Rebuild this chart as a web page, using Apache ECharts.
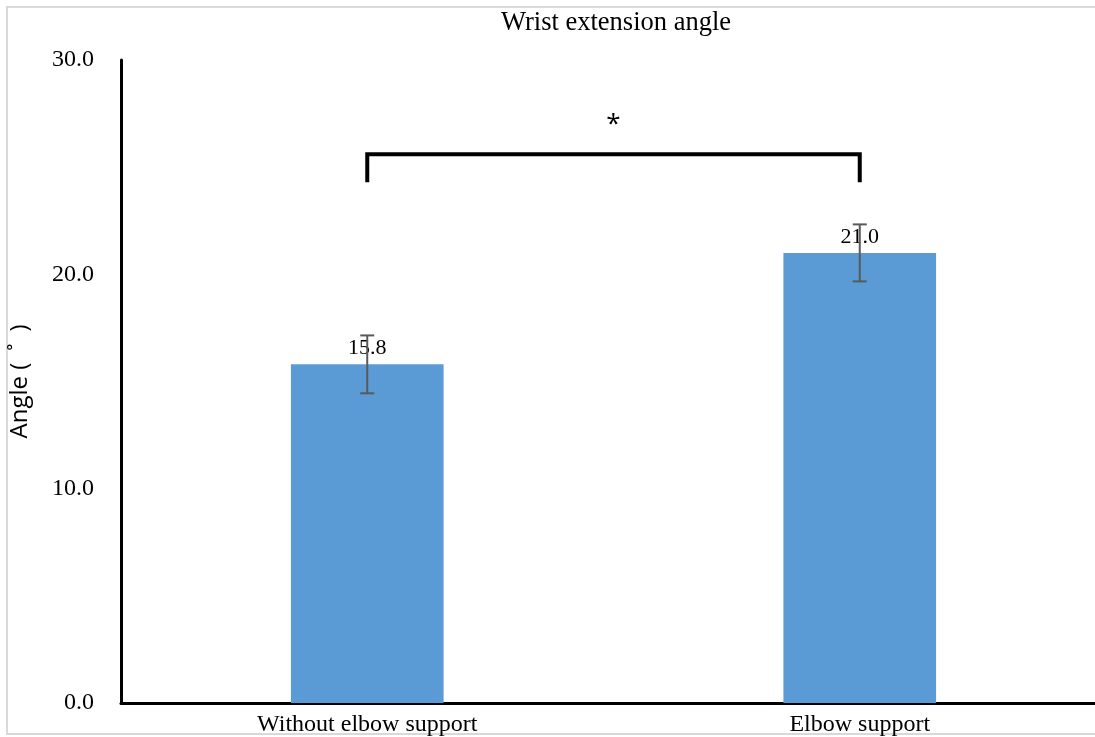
<!DOCTYPE html>
<html>
<head>
<meta charset="utf-8">
<script src="https://cdn.jsdelivr.net/npm/echarts@6/dist/echarts.min.js"></script>
<style>
html,body{margin:0;padding:0;background:#fff;overflow:hidden;width:1095px;height:737px;}
#frame{position:absolute;left:6px;top:6px;width:1095px;height:729px;border:2px solid #d9d9d9;box-sizing:border-box;}
#chart{position:absolute;left:0;top:0;width:1110px;height:737px;}
</style>
</head>
<body>
<div id="frame"></div>
<div id="chart"></div>
<script>
const categories = ['Without elbow support', 'Elbow support'];
const meanValues = [15.8, 21.0];
const errorValues = [1.35, 1.33];
const bracketLow = 24.3;
const bracketHigh = 25.6;
const starValue = 27.0;

const chart = echarts.init(document.getElementById('chart'));
chart.setOption({
  animation: false,
  title: {
    text: 'Wrist extension angle',
    left: 496,
    top: 5,
    textStyle: {fontFamily: 'Liberation Serif', fontSize: 26.5, fontWeight: 'normal', color: '#000'}
  },
  grid: {left: 121, right: 4, top: 60, bottom: 34},
  xAxis: {
    type: 'category',
    data: categories,
    axisLine: {lineStyle: {color: '#000', width: 3}},
    axisTick: {show: false},
    axisLabel: {fontFamily: 'Liberation Serif', fontSize: 24, color: '#000', margin: 10}
  },
  yAxis: {
    type: 'value',
    min: 0, max: 30, interval: 10,
    name: 'Angle (\u2002˚\u2002)',
    nameLocation: 'middle',
    nameGap: 89,
    nameTextStyle: {fontFamily: 'Open Sans', fontSize: 24, color: '#000'},
    axisLine: {show: true, lineStyle: {color: '#000', width: 3}},
    axisTick: {show: false},
    splitLine: {show: false},
    axisLabel: {fontFamily: 'Liberation Serif', fontSize: 24, color: '#000', margin: 27,
      formatter: v => v.toFixed(1)}
  },
  series: [
    {
      type: 'bar',
      data: meanValues,
      barWidth: '31%',
      itemStyle: {color: '#5b9bd5'},
      label: {show: true, position: 'top', distance: 5,
        fontFamily: 'Liberation Serif', fontSize: 22, color: '#000',
        formatter: p => p.value.toFixed(1)},
      z: 2
    },
    {
      type: 'custom',
      z: 5,
      data: meanValues.map((v, i) => [i, v - errorValues[i], v + errorValues[i]]),
      renderItem: (params, api) => {
        const lo = api.coord([api.value(0), api.value(1)]);
        const hi = api.coord([api.value(0), api.value(2)]);
        const hw = 7;
        const style = {stroke: '#595959', lineWidth: 2};
        return {type: 'group', children: [
          {type: 'line', shape: {x1: lo[0], y1: lo[1], x2: hi[0], y2: hi[1]}, style},
          {type: 'line', shape: {x1: lo[0]-hw, y1: lo[1], x2: lo[0]+hw, y2: lo[1]}, style},
          {type: 'line', shape: {x1: hi[0]-hw, y1: hi[1], x2: hi[0]+hw, y2: hi[1]}, style}
        ]};
      }
    },
    {
      type: 'custom',
      z: 5,
      data: [[0, 1, bracketLow, bracketHigh, starValue]],
      renderItem: (params, api) => {
        const a = api.coord([api.value(0), api.value(2)]);
        const b = api.coord([api.value(0), api.value(3)]);
        const c = api.coord([api.value(1), api.value(3)]);
        const d = api.coord([api.value(1), api.value(2)]);
        const s = api.coord([0.5, api.value(4)]);
        return {type: 'group', children: [
          {type: 'polyline', shape: {points: [a, b, c, d]},
           style: {stroke: '#000', lineWidth: 4, fill: null, lineJoin: 'miter'}},
          {type: 'text', x: (b[0] + c[0]) / 2, y: s[1],
           style: {text: '*', fontFamily: 'Open Sans', fontSize: 26, fill: '#000',
             align: 'center', verticalAlign: 'middle'}}
        ]};
      }
    }
  ]
});
</script>
</body>
</html>
